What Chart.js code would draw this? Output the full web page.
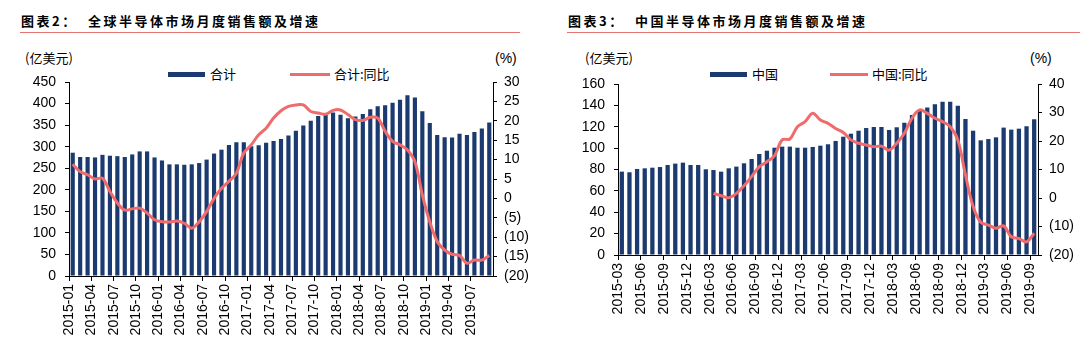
<!DOCTYPE html>
<html>
<head>
<meta charset="utf-8">
<script src="https://cdn.jsdelivr.net/npm/chart.js@4.4.0/dist/chart.umd.min.js"></script>
<style>
  body { margin: 0; width: 1080px; height: 337px; background: #fff; position: relative; overflow: hidden;
         font-family: 'Liberation Sans', Arial, sans-serif; color: #000; }
  .title { position: absolute; top: 13px; font: bold 13px 'Noto Sans CJK SC', sans-serif; letter-spacing: 2.5px; white-space: nowrap; line-height: 16px; }
  .rule { position: absolute; top: 32px; border-top: 1.5px solid #E5736E; }
  .unit { position: absolute; top: 50px; font: 13px 'Noto Sans CJK SC', sans-serif; line-height: 16px; white-space: nowrap; }
  .pct { position: absolute; top: 50px; font: 14px 'Liberation Sans', Arial, sans-serif; line-height: 16px; }
  .swatch-bar { position: absolute; top: 72px; height: 5px; background: #1B3A6F; }
  .swatch-line { position: absolute; top: 73px; height: 3px; background: #F06B6B; }
  .legtext { position: absolute; top: 66px; font: 13px 'Noto Sans CJK SC', sans-serif; line-height: 16px; white-space: nowrap; }
  canvas { position: absolute; top: 0; }
</style>
</head>
<body>
<div class="title" style="left:21px">图表2：</div>
<div class="title" style="left:88px">全球半导体市场月度销售额及增速</div>
<div class="rule" style="left:20px;width:500px"></div>
<div class="unit" style="left:25px">(亿美元)</div>
<div class="pct" style="left:495px">(%)</div>
<div class="swatch-bar" style="left:168px;width:37px"></div>
<div class="legtext" style="left:210px">合计</div>
<div class="swatch-line" style="left:290px;width:40px"></div>
<div class="legtext" style="left:334px">合计:同比</div>

<div class="title" style="left:568px">图表3：</div>
<div class="title" style="left:635px">中国半导体市场月度销售额及增速</div>
<div class="rule" style="left:567px;width:513px"></div>
<div class="unit" style="left:585px">(亿美元)</div>
<div class="pct" style="left:1030px">(%)</div>
<div class="swatch-bar" style="left:710px;width:37px"></div>
<div class="legtext" style="left:752px">中国</div>
<div class="swatch-line" style="left:830px;width:38px"></div>
<div class="legtext" style="left:872px">中国:同比</div>

<canvas id="globalChart" width="540" height="337" style="left:0"></canvas>
<canvas id="chinaChart" width="540" height="337" style="left:540px"></canvas>

<script>
// monthly categories
function monthRange(startYear, startMonth, count) {
    const out = [];
    for (let i = 0; i < count; i++) {
        const m = startMonth - 1 + i;
        const y = startYear + Math.floor(m / 12);
        out.push(y + '-' + String(m % 12 + 1).padStart(2, '0'));
    }
    return out;
}

const globalMonths = monthRange(2015, 1, 57);   // 2015-01 .. 2019-09
const chinaMonths = monthRange(2015, 3, 55);    // 2015-03 .. 2019-09

// 全球 (亿美元)
const globalSales = [
    286, 276, 276, 275, 281, 279, 278, 276, 282, 289,
    289, 275, 268, 259, 259, 258, 259, 262, 270, 284,
    293, 304, 310, 310, 301, 303, 309, 313, 318, 326,
    337, 349, 360, 371, 378, 379, 374, 366, 370, 376,
    387, 394, 396, 402, 409, 419, 414, 382, 355, 327,
    322, 321, 330, 327, 334, 342, 356
];
// 全球 同比 (%)
const globalYoY = [
    8.8, 6.9, 6.1, 5.0, 5.2, 1.8, -1.2, -3.0, -2.7, -2.5,
    -3.8, -5.5, -6.0, -6.1, -5.8, -6.4, -7.7, -6.0, -3.4, 0.0,
    2.6, 4.4, 6.5, 11.7, 13.8, 16.4, 18.1, 20.7, 22.6, 23.7,
    24.1, 24.1, 22.4, 22.0, 21.7, 22.7, 22.8, 21.6, 20.3, 20.1,
    20.9, 20.7, 17.3, 14.7, 13.8, 12.5, 9.5, 0.9, -6.0, -11.1,
    -13.3, -14.4, -14.7, -16.7, -15.9, -15.9, -14.7
];

// 中国 (亿美元)
const chinaSales = [
    78.0, 77.4, 80.5, 81.1, 81.7, 82.3, 84.2, 85.5, 86.4, 84.2,
    84.2, 80.2, 79.5, 78.0, 81.1, 82.7, 85.8, 89.8, 94.5, 97.6,
    100.4, 101.4, 101.4, 100.4, 100.4, 101.1, 102.3, 103.6, 106.7, 110.7,
    113.5, 116.3, 118.8, 119.8, 119.8, 117.0, 119.5, 123.8, 131.0, 135.4,
    137.9, 141.0, 143.5, 143.5, 139.7, 127.3, 116.3, 107.3, 108.5, 110.1,
    119.2, 117.3, 118.2, 120.4, 127.0
];
// 中国 同比 (%), starts 2016-03
const chinaYoY = [
    null, null, null, null, null, null, null, null, null, null,
    null, null, 1.6, 0.8, 0.1, 1.6, 4.3, 7.5, 11.0, 12.7,
    14.9, 20.4, 20.7, 25.0, 26.8, 29.7, 27.4, 26.2, 24.4, 23.0,
    20.4, 19.2, 18.6, 18.0, 18.2, 16.8, 19.2, 22.7, 28.0, 30.9,
    29.7, 28.0, 26.8, 25.0, 20.4, 8.1, -3.0, -8.5, -9.5, -10.6,
    -9.8, -13.6, -14.2, -15.4, -12.4
];

const NAVY = '#1B3A6F';
const RED = '#F06B6B';

Chart.defaults.font.family = "'Liberation Sans', Arial, sans-serif";
Chart.defaults.font.size = 14;
Chart.defaults.color = '#000';

function paren(v) {
    return v < 0 ? '(' + Math.abs(v) + ')' : v;
}

function makeChart(id, cfg) {
    const ctx = document.getElementById(id).getContext('2d');
    return new Chart(ctx, {
        type: 'bar',
        data: {
            labels: cfg.labels,
            datasets: [{
                type: 'line',
                label: cfg.lineName,
                data: cfg.line,
                yAxisID: 'y1',
                borderColor: RED,
                borderWidth: 3,
                pointRadius: 0,
                tension: 0.35,
                spanGaps: false,
                order: 0
            }, {
                type: 'bar',
                label: cfg.barName,
                data: cfg.bars,
                yAxisID: 'y',
                backgroundColor: NAVY,
                barPercentage: 0.56,
                categoryPercentage: 1,
                order: 1
            }]
        },
        options: {
            responsive: false,
            animation: false,
            layout: { padding: cfg.padding },
            plugins: {
                legend: { display: false },
                tooltip: { enabled: false }
            },
            scales: {
                x: {
                    offset: true,
                    grid: {
                        offset: true,
                        drawOnChartArea: false,
                        tickLength: 5,
                        color: c => (c.index % 3 === 0 ? '#000' : 'rgba(0,0,0,0)')
                    },
                    border: { color: '#000' },
                    ticks: {
                        autoSkip: false,
                        minRotation: 90,
                        maxRotation: 90,
                        labelOffset: cfg.labelOffset,
                        padding: 3,
                        callback: function (v, i) {
                            return i % 3 === 0 ? this.getLabelForValue(v) : '';
                        }
                    },
                    afterFit: s => { s.height = cfg.xHeight; }
                },
                y: {
                    position: 'left',
                    min: cfg.yMin, max: cfg.yMax,
                    ticks: { stepSize: cfg.yStep, padding: 9, autoSkip: false },
                    grid: { drawOnChartArea: false, tickLength: 4, color: '#000' },
                    border: { color: '#000' },
                    afterFit: s => { s.width = cfg.yWidth; }
                },
                y1: {
                    position: 'right',
                    min: cfg.y1Min, max: cfg.y1Max,
                    ticks: { stepSize: cfg.y1Step, padding: 7, autoSkip: false, callback: paren },
                    grid: { drawOnChartArea: false, tickLength: 4, color: '#000' },
                    border: { color: '#000' },
                    afterFit: s => { s.width = cfg.y1Width; }
                }
            }
        }
    });
}

makeChart('globalChart', {
    labels: globalMonths,
    bars: globalSales,
    line: globalYoY,
    barName: '合计',
    lineName: '合计:同比',
    padding: { left: 29, right: 0, top: 82, bottom: 0 },
    yWidth: 40, y1Width: 47, xHeight: 61,
    yMin: 0, yMax: 450, yStep: 50,
    y1Min: -20, y1Max: 30, y1Step: 5,
    labelOffset: -3.7
});

makeChart('chinaChart', {
    labels: chinaMonths,
    bars: chinaSales,
    line: chinaYoY,
    barName: '中国',
    lineName: '中国:同比',
    padding: { left: 38, right: 0, top: 84, bottom: 0 },
    yWidth: 40, y1Width: 42, xHeight: 82,
    yMin: 0, yMax: 160, yStep: 20,
    y1Min: -20, y1Max: 40, y1Step: 10,
    labelOffset: -3.8
});
</script>
</body>
</html>
